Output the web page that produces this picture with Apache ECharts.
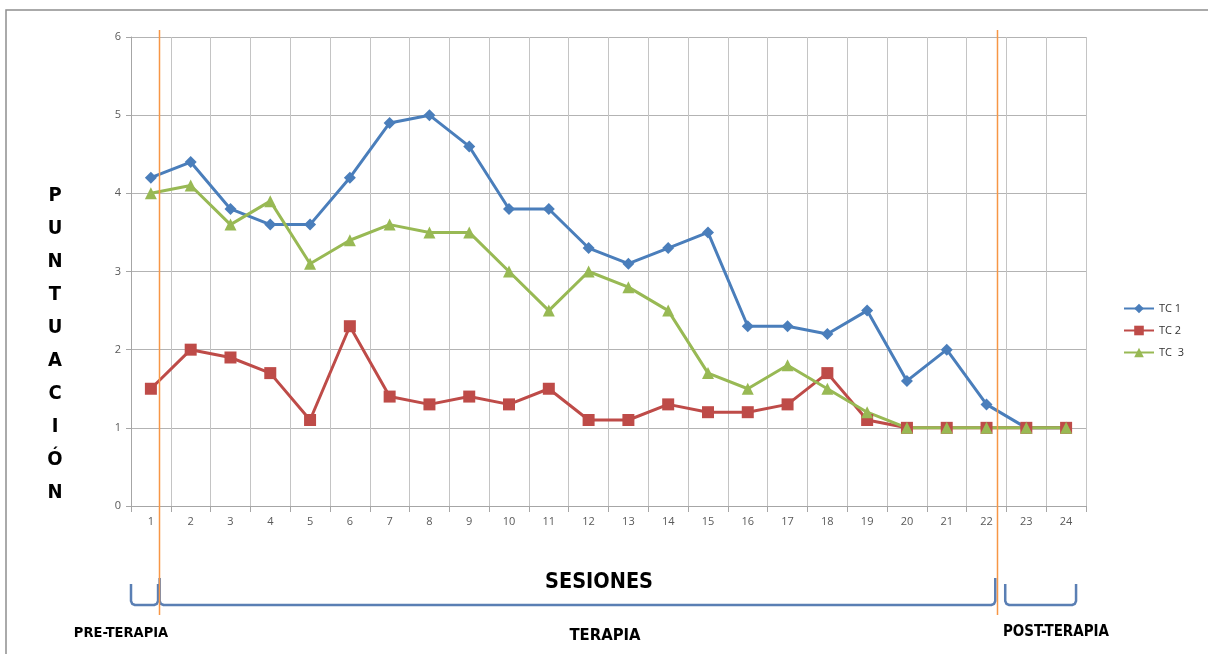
<!DOCTYPE html>
<html>
<head>
<meta charset="utf-8">
<script src="https://cdn.jsdelivr.net/npm/echarts@6/dist/echarts.min.js"></script>
<style>
  html, body { margin: 0; padding: 0; background: #fff; }
  #chart { width: 1208px; height: 654px; }
</style>
</head>
<body>
<div id="chart"></div>
<script>
// Sessions 1..24
const sessions = ['1','2','3','4','5','6','7','8','9','10','11','12','13','14','15','16','17','18','19','20','21','22','23','24'];
const yTicks = [0, 1, 2, 3, 4, 5, 6];

const tc1 = [4.2, 4.4, 3.8, 3.6, 3.6, 4.2, 4.9, 5.0, 4.6, 3.8, 3.8, 3.3, 3.1, 3.3, 3.5, 2.3, 2.3, 2.2, 2.5, 1.6, 2.0, 1.3, 1.0, 1.0];
const tc2 = [1.5, 2.0, 1.9, 1.7, 1.1, 2.3, 1.4, 1.3, 1.4, 1.3, 1.5, 1.1, 1.1, 1.3, 1.2, 1.2, 1.3, 1.7, 1.1, 1.0, 1.0, 1.0, 1.0, 1.0];
const tc3 = [4.0, 4.1, 3.6, 3.9, 3.1, 3.4, 3.6, 3.5, 3.5, 3.0, 2.5, 3.0, 2.8, 2.5, 1.7, 1.5, 1.8, 1.5, 1.2, 1.0, 1.0, 1.0, 1.0, 1.0];

// Phase boundaries, in session units
const phaseCuts = [1.2, 22.27];
// Phase brackets [from, to] in session units
const phaseSpans = [[0.5, 1.18], [1.22, 22.22], [22.47, 24.25]];

const COLORS = { tc1: '#4a7ebb', tc2: '#be4b48', tc3: '#98b954', cut: '#f79646', bracket: '#5a7fb4' };
const labelFont = 'Open Sans, Liberation Sans, sans-serif';
const titleFont = '"DejaVu Sans Condensed", "Open Sans", sans-serif';

const chart = echarts.init(document.getElementById('chart'));

const lineSeries = (name, data, color, symbol, size) => ({
  name, type: 'line', data, symbol, symbolSize: size,
  xAxisIndex: 0, yAxisIndex: 0,
  lineStyle: { color, width: 3 },
  itemStyle: { color },
  emphasis: { disabled: true },
  z: 3
});

chart.setOption({
  animation: false,
  backgroundColor: '#fff',
  grid: { left: 131, right: 122, top: 37, bottom: 148, containLabel: false },
  legend: {
    orient: 'vertical', left: 1118, top: 298, itemGap: 11,
    itemWidth: 30, itemHeight: 12,
    textStyle: { fontSize: 11, color: '#333', fontFamily: labelFont },
    data: ['TC 1', 'TC 2', 'TC  3']
  },
  xAxis: [{
    type: 'category', data: sessions, boundaryGap: true,
    axisLine: { lineStyle: { color: '#a6a6a6' } },
    axisTick: { show: true, length: 6, lineStyle: { color: '#a6a6a6' } },
    axisLabel: { color: '#595959', fontSize: 11, fontFamily: labelFont, margin: 10 },
    splitLine: { show: true, lineStyle: { color: '#c4c4c4', width: 1 } }
  }, {
    type: 'value', min: 0.5, max: 24.5, show: false
  }],
  yAxis: [{
    type: 'value', min: yTicks[0], max: yTicks[yTicks.length - 1], interval: 1,
    axisLine: { show: true, lineStyle: { color: '#a6a6a6' } },
    axisTick: { show: true, length: 5, lineStyle: { color: '#a6a6a6' } },
    axisLabel: { color: '#595959', fontSize: 11, fontFamily: labelFont, margin: 10 },
    splitLine: { show: true, lineStyle: { color: '#b3b3b3', width: 1 } }
  }],
  series: [
    lineSeries('TC 1', tc1, COLORS.tc1, 'diamond', 12),
    lineSeries('TC 2', tc2, COLORS.tc2, 'rect', 12),
    lineSeries('TC  3', tc3, COLORS.tc3, 'triangle', 12),
    // helper series on the value axis so phase cuts can be positioned
    { type: 'line', xAxisIndex: 1, yAxisIndex: 0, data: [], silent: true }
  ]
});

// Overlay: phase cut lines, brackets and captions
const px = v => chart.convertToPixel({ xAxisIndex: 1 }, v);
const graphics = [];

graphics.push({
  type: 'polyline', silent: true, z: 0,
  shape: { points: [[6, 654], [6, 10], [1208, 10]] },
  style: { stroke: '#8f8f8f', lineWidth: 1.5, fill: null }
});

phaseCuts.forEach(c => {
  const x = Math.round(px(c)) + 0.5;
  graphics.push({
    type: 'line', silent: true, z: 10,
    shape: { x1: x, y1: 30, x2: x, y2: 615 },
    style: { stroke: COLORS.cut, lineWidth: 1.5 }
  });
});

// Bracket: two uprights joined by a base, with slightly rounded corners
const bracketPoints = (x1, x2, top, bottom, r) => [
  [x1, top], [x1, bottom - r], [x1 + r * 0.3, bottom - r * 0.3], [x1 + r, bottom],
  [x2 - r, bottom], [x2 - r * 0.3, bottom - r * 0.3], [x2, bottom - r], [x2, top]
];

phaseSpans.forEach((s, i) => {
  const top = i === 1 ? 578 : 584;
  graphics.push({
    type: 'polyline', silent: true, z: 5,
    shape: { points: bracketPoints(px(s[0]), px(s[1]), top, 605, 4) },
    style: { stroke: COLORS.bracket, lineWidth: 2.5, fill: null, lineJoin: 'round' }
  });
});

const caption = (text, x, y, size) => ({
  type: 'text', silent: true, z: 6, x, y,
  style: { text, fill: '#000', font: `bold ${size}px ${titleFont}`, align: 'center', verticalAlign: 'middle' }
});

graphics.push(caption('SESIONES', 599, 582, 21.5));
graphics.push(caption('PRE-TERAPIA', 121, 633, 14.5));
graphics.push(caption('TERAPIA', 605, 636, 16.5));
graphics.push(caption('POST-TERAPIA', 1056, 632, 15));

// Vertical y-axis title, one letter per row
const title = ['P','U','N','T','U','A','C','I','Ó','N'];
title.forEach((ch, i) => {
  graphics.push(caption(ch, 55, 196 + i * 33, 20));
});

chart.setOption({ graphic: graphics });
</script>
</body>
</html>
